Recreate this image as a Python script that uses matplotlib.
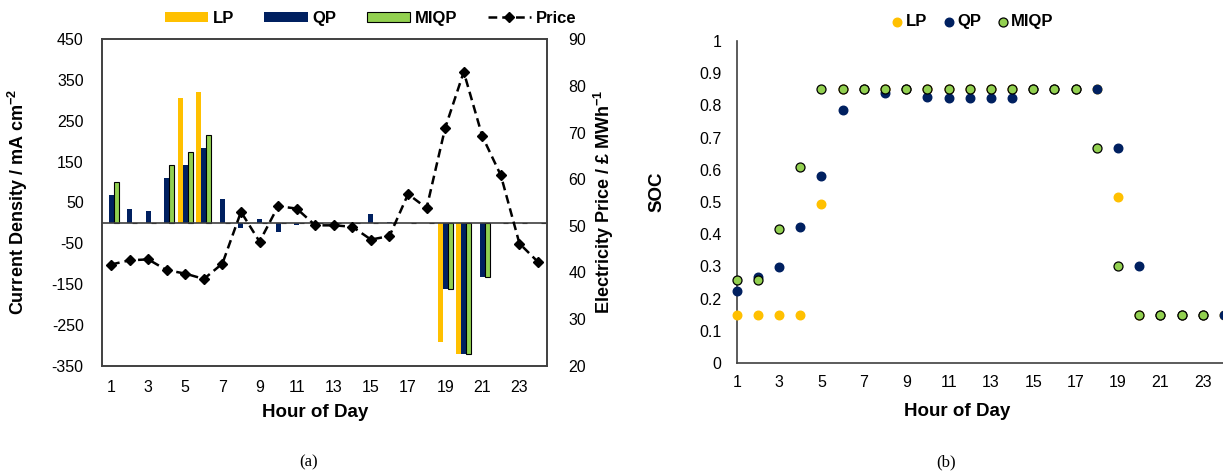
import matplotlib
matplotlib.use('Agg')
import matplotlib.pyplot as plt
import numpy as np

plt.rcParams['font.family'] = ['Liberation Sans', 'DejaVu Sans']
plt.rcParams['mathtext.fontset'] = 'custom'
plt.rcParams['mathtext.rm'] = 'Liberation Sans:bold'
plt.rcParams['mathtext.default'] = 'rm'
plt.rcParams['axes.unicode_minus'] = False

# datos
horas = np.arange(1, 25)
lp_corriente = [0, 0, 0, 0, 307, 320, 0, 0, 0, 0, 0, 0,
                0, 0, 0, 0, 0, 0, -293, -321, 0, 0, 0, 0]
qp_corriente = [68, 34, 29, 109, 141, 183, 59, -12, 10, -22, -6, 0,
                0, 0, 23, 3, 0, 0, -161, -321, -133, 0, 0, 0]
miqp_corriente = [100, 0, 0, 142, 174, 216, 0, 0, 0, 0, 0, 0,
                  0, 0, 0, 0, 0, 0, -161, -321, -133, 0, 0, 0]
precio = [41.7, 42.6, 42.8, 40.5, 39.75, 38.6, 41.9, 53.0, 46.6, 54.2, 53.7, 50.1,
          50.1, 49.8, 47.05, 47.8, 56.8, 53.8, 71.0, 83.0, 69.2, 60.8, 46.2, 42.25]

lp_soc = [0.15, 0.15, 0.15, 0.15, 0.495, 0.85, 0.85, 0.85, 0.85, 0.85, 0.85, 0.85,
          0.85, 0.85, 0.85, 0.85, 0.85, 0.85, 0.515, 0.15, 0.15, 0.15, 0.15, 0.15]
qp_soc = [0.225, 0.267, 0.298, 0.421, 0.58, 0.785, 0.85, 0.838, 0.85, 0.827, 0.822, 0.822,
          0.822, 0.822, 0.85, 0.85, 0.85, 0.85, 0.667, 0.30, 0.15, 0.15, 0.15, 0.15]
miqp_soc = [0.259, 0.259, 0.417, 0.61, 0.851, 0.851, 0.851, 0.851, 0.851, 0.851, 0.851, 0.851,
            0.851, 0.851, 0.851, 0.851, 0.851, 0.667, 0.30, 0.148, 0.148, 0.148, 0.148, np.nan]

amarillo = '#FFC000'
azul = '#002060'
verde = '#92D050'
gris = '#404040'

fig = plt.figure(figsize=(12.23, 4.75), dpi=100)

# ---- (a) densidad de corriente y precio
ax = fig.add_axes([0.0832, 0.2301, 0.3643, 0.6872])
pos = np.arange(len(horas))
w = 0.27
ax.bar(pos - w, lp_corriente, w, color=amarillo, label='LP')
ax.bar(pos, qp_corriente, w, color=azul, label='QP')
ax.bar(pos + w, miqp_corriente, w, color=verde, edgecolor='black', linewidth=0.8, label='MIQP')
ax.axhline(0, color=gris, lw=1.2)
ax.set_xlim(-0.5, 23.5)
ax.set_ylim(-350, 450)
ax.set_yticks(np.arange(-350, 451, 100))
ax.set_xticks(pos[::2])
ax.set_xticklabels([str(h) for h in horas[::2]])
ax.tick_params(axis='y', length=0, pad=13, labelsize=11.5)
ax.tick_params(axis='x', length=0, pad=10, labelsize=11.5)
for s in ax.spines.values():
    s.set_color(gris)
    s.set_linewidth(1.2)

ax2 = ax.twinx()
ax2.plot(pos, precio, color='black', linestyle=(0, (3.5, 2)), lw=1.8,
         marker='D', markersize=5, label='Price')
ax2.set_ylim(20, 90)
ax2.set_yticks(np.arange(20, 91, 10))
ax2.tick_params(axis='y', length=0, pad=15, labelsize=11.5)
for s in ax2.spines.values():
    s.set_color(gris)
    s.set_linewidth(1.2)

h1, l1 = ax.get_legend_handles_labels()
h2, l2 = ax2.get_legend_handles_labels()
fig.legend(h1 + h2, l1 + l2, loc='center', bbox_to_anchor=(0.303, 0.962), ncol=4,
           frameon=False, prop={'weight': 'bold', 'size': 12},
           handlelength=2.6, handleheight=0.55, handletextpad=0.3, columnspacing=1.8)

fig.text(0.0147, 0.575, 'Current Density / mA cm$^{-2}$', rotation=90,
         ha='center', va='center', fontsize=13, fontweight='bold')
fig.text(0.494, 0.575, 'Electricity Price / £ MWh$^{-1}$', rotation=90,
         ha='center', va='center', fontsize=13, fontweight='bold')
fig.text(0.2575, 0.131, 'Hour of Day', ha='center', va='center',
         fontsize=13.5, fontweight='bold')
fig.text(0.2527, 0.027, '(a)', ha='center', va='center',
         fontsize=12, family='Liberation Serif')

# ---- (b) estado de carga
bx = fig.add_axes([0.6024, 0.2358, 0.4157, 0.678])
bx.scatter(horas, lp_soc, s=38, color=amarillo, label='LP', zorder=3, clip_on=False)
bx.scatter(horas, qp_soc, s=38, color=azul, label='QP', zorder=3, clip_on=False)
bx.scatter(horas, miqp_soc, s=42, color=verde, edgecolor='black', linewidth=0.9,
           label='MIQP', zorder=3, clip_on=False)
bx.set_xlim(1, 25)
bx.set_ylim(0, 1)
bx.set_yticks(np.arange(0, 1.01, 0.1))
bx.set_yticklabels(['0'] + ['%.1f' % v for v in np.arange(0.1, 0.95, 0.1)] + ['1'])
bx.set_xticks(np.arange(1, 24, 2))
bx.tick_params(axis='y', length=0, pad=11, labelsize=11.5)
bx.tick_params(axis='x', length=0, pad=9, labelsize=11.5)
bx.spines['top'].set_visible(False)
bx.spines['right'].set_visible(False)
bx.spines['left'].set_color(gris)
bx.spines['bottom'].set_color(gris)
bx.spines['left'].set_linewidth(1.2)
bx.spines['bottom'].set_linewidth(1.2)
bx.legend(loc='center', bbox_to_anchor=(0.7956, 0.955), bbox_transform=fig.transFigure,
          ncol=3, frameon=False, prop={'weight': 'bold', 'size': 12},
          handlelength=0.6, handletextpad=0.2, columnspacing=1.0, scatterpoints=1)

fig.text(0.537, 0.597, 'SOC', rotation=90, ha='center', va='center',
         fontsize=13.5, fontweight='bold')
fig.text(0.7825, 0.133, 'Hour of Day', ha='center', va='center',
         fontsize=13.5, fontweight='bold')
fig.text(0.7735, 0.027, '(b)', ha='center', va='center',
         fontsize=12, family='Liberation Serif')

fig.savefig('out.png', dpi=100)
